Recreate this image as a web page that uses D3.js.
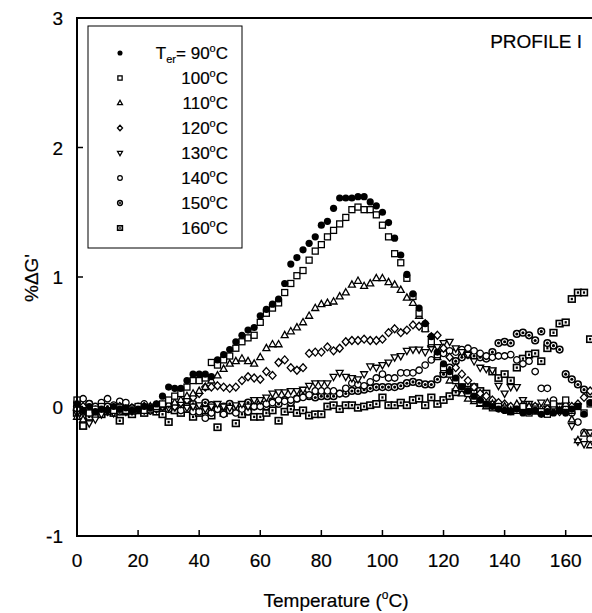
<!DOCTYPE html>
<html>
<head>
<meta charset="utf-8">
<script src="https://cdn.jsdelivr.net/npm/d3@7"></script>
<style>
  body { margin: 0; background: #fff; }
  svg { display: block; font-family: "Liberation Sans", Arial, sans-serif; }
  text { stroke: #000; stroke-width: 0.2px; }
</style>
</head>
<body>
<svg id="chart" width="592" height="613"></svg>
<script>
// %ΔG' vs temperature, eight erasing temperatures (Profile I)

const temps = [
  0, 2, 4, 6, 8, 10, 12, 14, 16, 18,
  20, 22, 24, 26, 28, 30, 32, 34, 36, 38,
  40, 42, 44, 46, 48, 50, 52, 54, 56, 58,
  60, 62, 64, 66, 68, 70, 72, 74, 76, 78,
  80, 82, 84, 86, 88, 90, 92, 94, 96, 98,
  100, 102, 104, 106, 108, 110, 112, 114, 116, 118,
  120, 122, 124, 126, 128, 130, 132, 134, 136, 138,
  140, 142, 144, 146, 148, 150, 152, 154, 156, 158,
  160, 162, 164, 166, 168
];

const ter90 = [
  0.02, -0.03, 0.00, -0.04, -0.02, -0.03, 0.00, -0.02, -0.01, -0.03,
  -0.02, 0.00, -0.01, 0.02, 0.08, 0.15, 0.14, 0.14, 0.20, 0.25,
  0.25, 0.25, 0.23, 0.36, 0.40, 0.44, 0.50, 0.55, 0.59, 0.61,
  0.70, 0.75, 0.79, 0.83, 0.95, 1.10, 1.15, 1.21, 1.26, 1.31,
  1.40, 1.43, 1.53, 1.61, 1.61, 1.61, 1.62, 1.62, 1.58, 1.55,
  1.50, 1.42, 1.30, 1.17, 1.02, 0.87, 0.76, 0.64, 0.54, 0.42,
  0.33, 0.27, 0.22, 0.15, 0.12, 0.08, 0.05, 0.02, 0.00, -0.02,
  -0.03, -0.04, -0.02, -0.05, -0.04, -0.03, -0.06, -0.04, -0.05, -0.03,
  -0.05, -0.02, 0.00, -0.06, 0.03
];

const ter100 = [
  0.05, -0.15, -0.05, -0.02, 0.00, -0.04, -0.03, -0.01, -0.03, -0.02,
  0.00, -0.03, -0.02, 0.00, 0.02, 0.05, 0.08, 0.10, 0.15, 0.20,
  0.20, 0.22, 0.34, 0.32, 0.36, 0.39, 0.45, 0.50, 0.53, 0.55,
  0.65, 0.72, 0.76, 0.80, 0.88, 0.95, 1.01, 1.05, 1.13, 1.20,
  1.25, 1.31, 1.36, 1.41, 1.46, 1.52, 1.54, 1.52, 1.52, 1.48,
  1.40, 1.31, 1.18, 1.11, 0.99, 0.85, 0.72, 0.60, 0.50, 0.40,
  0.30, 0.25, 0.20, 0.14, 0.10, 0.06, 0.03, 0.01, -0.01, 0.00,
  -0.02, -0.04, -0.03, 0.00, -0.05, -0.02, -0.04, -0.06, 0.02, -0.03,
  0.05, -0.03, 0.00, -0.05, 0.02
];

const ter110 = [
  -0.08, -0.10, -0.05, -0.03, -0.02, -0.04, -0.01, -0.03, -0.02, -0.04,
  -0.02, -0.01, 0.00, -0.02, 0.01, 0.02, 0.03, 0.05, 0.08, 0.10,
  0.12, 0.15, 0.20, 0.24, 0.29, 0.33, 0.35, 0.37, 0.35, 0.33,
  0.38, 0.45, 0.48, 0.48, 0.55, 0.58, 0.61, 0.65, 0.70, 0.76,
  0.79, 0.80, 0.81, 0.85, 0.88, 0.94, 0.97, 0.93, 0.95, 0.99,
  0.99, 0.96, 0.94, 0.90, 0.84, 0.80, 0.70, 0.60, 0.48, 0.38,
  0.28, 0.20, 0.14, 0.10, 0.06, 0.04, 0.02, 0.00, 0.02, -0.01,
  0.00, -0.03, 0.02, -0.02, 0.00, -0.04, -0.02, 0.03, 0.00, -0.03,
  0.02, -0.10, -0.26, -0.21, -0.30
];

const ter120 = [
  -0.02, 0.00, -0.05, -0.03, -0.01, -0.04, -0.02, 0.00, -0.03, -0.01,
  -0.02, 0.00, -0.03, 0.01, 0.00, 0.02, 0.00, 0.03, 0.05, 0.07,
  0.10, 0.15, 0.15, 0.16, 0.15, 0.14, 0.15, 0.20, 0.23, 0.22,
  0.21, 0.27, 0.24, 0.34, 0.36, 0.30, 0.28, 0.30, 0.41, 0.42,
  0.42, 0.46, 0.43, 0.45, 0.50, 0.51, 0.51, 0.52, 0.51, 0.51,
  0.52, 0.57, 0.60, 0.57, 0.59, 0.63, 0.62, 0.64, 0.54, 0.55,
  0.45, 0.38, 0.30, 0.25, 0.20, 0.15, 0.10, 0.08, 0.05, 0.03,
  0.02, 0.00, -0.02, 0.01, -0.03, 0.00, -0.05, -0.02, 0.00, -0.04,
  0.03, 0.00, 0.02, 0.07, 0.12
];

const ter130 = [
  -0.05, -0.11, -0.13, -0.10, -0.06, -0.03, -0.05, -0.02, -0.04, -0.03,
  -0.01, -0.03, 0.00, -0.02, 0.01, -0.01, 0.00, 0.02, -0.01, 0.00,
  0.01, -0.02, 0.00, 0.02, 0.00, -0.01, 0.01, 0.02, 0.00, 0.05,
  0.05, 0.07, 0.10, 0.11, 0.11, 0.12, 0.12, 0.13, 0.16, 0.18,
  0.18, 0.18, 0.23, 0.26, 0.23, 0.22, 0.21, 0.25, 0.31, 0.30,
  0.32, 0.34, 0.38, 0.39, 0.43, 0.44, 0.44, 0.42, 0.45, 0.46,
  0.49, 0.50, 0.45, 0.42, 0.40, 0.35, 0.30, 0.29, 0.28, 0.16,
  0.10, 0.15, 0.15, 0.05, 0.02, 0.00, 0.03, -0.02, 0.01, 0.00,
  -0.04, -0.15, -0.27, -0.29, -0.20
];

const ter140 = [
  0.03, 0.06, 0.02, 0.00, 0.03, 0.06, 0.01, 0.04, 0.03, -0.01,
  0.00, 0.02, -0.01, 0.00, 0.01, -0.02, 0.00, -0.03, -0.02, -0.04,
  -0.04, -0.09, -0.05, -0.02, -0.06, -0.03, -0.05, -0.02, -0.04, 0.00,
  0.00, 0.02, 0.03, 0.05, 0.04, 0.05, 0.06, 0.07, 0.09, 0.12,
  0.12, 0.12, 0.12, 0.10, 0.14, 0.18, 0.17, 0.16, 0.19, 0.22,
  0.25, 0.22, 0.22, 0.26, 0.26, 0.26, 0.28, 0.32, 0.36, 0.39,
  0.41, 0.43, 0.42, 0.44, 0.45, 0.43, 0.41, 0.39, 0.38, 0.39,
  0.39, 0.40, 0.36, 0.33, 0.35, 0.27, 0.14, 0.14, 0.05, 0.00,
  -0.02, -0.05, -0.12, -0.20, -0.25
];

const ter150 = [
  0.00, -0.04, 0.02, -0.03, -0.01, 0.00, -0.02, -0.04, -0.01, -0.03,
  -0.02, 0.00, -0.03, -0.01, 0.00, -0.02, 0.01, -0.01, 0.00, 0.02,
  0.00, 0.03, 0.01, -0.02, 0.00, 0.02, -0.01, 0.01, 0.03, 0.00,
  0.02, 0.00, 0.04, 0.02, 0.05, 0.03, 0.06, 0.10, 0.08, 0.07,
  0.08, 0.08, 0.08, 0.10, 0.10, 0.12, 0.12, 0.13, 0.14, 0.15,
  0.15, 0.15, 0.15, 0.16, 0.18, 0.19, 0.18, 0.17, 0.17, 0.21,
  0.25, 0.30, 0.35, 0.38, 0.40, 0.39, 0.38, 0.37, 0.42, 0.49,
  0.50, 0.49, 0.56, 0.57, 0.55, 0.51, 0.58, 0.49, 0.47, 0.44,
  0.25, 0.21, 0.17, 0.13, 0.10
];

const ter160 = [
  -0.05, -0.15, -0.08, -0.04, -0.06, -0.03, -0.05, -0.11, -0.04, -0.06,
  -0.03, -0.05, -0.02, -0.04, -0.06, -0.12, -0.03, -0.05, -0.02, -0.08,
  -0.05, -0.03, -0.07, -0.16, -0.05, -0.03, -0.13, -0.06, -0.04, -0.08,
  -0.08, -0.05, -0.03, -0.11, -0.04, -0.02, -0.05, -0.03, -0.07, -0.06,
  -0.06, 0.00, 0.01, -0.02, 0.01, 0.01, -0.01, 0.00, 0.01, 0.02,
  0.07, 0.01, 0.01, 0.03, 0.01, 0.05, 0.06, 0.01, 0.07, 0.02,
  0.05, 0.08, 0.11, 0.15, 0.13, 0.15, 0.12, 0.10, 0.27, 0.22,
  0.25, 0.20, 0.30, 0.37, 0.40, 0.41, 0.35, 0.45, 0.57, 0.64,
  0.65, 0.83, 0.88, 0.88, 0.52
];

const seriesTemps = ['90', '100', '110', '120', '130', '140', '150', '160'];
const seriesValues = [ter90, ter100, ter110, ter120, ter130, ter140, ter150, ter160];
const seriesMarks = ['dot', 'square', 'triUp', 'diamond', 'triDown', 'circle', 'circleDot', 'squareDot'];

const xTicks = [0, 20, 40, 60, 80, 100, 120, 140, 160];
const yTicks = [-1, 0, 1, 2, 3];

// ── Layout ──────────────────────────────────────────────────────────────
const W = 592, H = 613;
const X0 = 77, YTOP = 18, YBOT = 536;

const svg = d3.select('#chart');

const x = d3.scaleLinear().domain([0, 160]).range([X0, 565.7]);
const y = d3.scaleLinear().domain([-1, 3]).range([YBOT, YTOP]);

svg.append('defs').append('clipPath').attr('id', 'plot-clip')
  .append('rect')
  .attr('x', X0 - 6).attr('y', YTOP).attr('width', W - X0 + 6).attr('height', YBOT - YTOP);

// ── Marker drawing ──────────────────────────────────────────────────────
function drawMark(g, kind, k) {
  const sw = 1.3;
  switch (kind) {
    case 'dot':
      g.append('circle').attr('r', 3.0 * k).attr('fill', '#000');
      break;
    case 'square':
      g.append('rect').attr('x', -2.5 * k).attr('y', -2.5 * k)
        .attr('width', 5 * k).attr('height', 5 * k)
        .attr('fill', '#fff').attr('stroke', '#000').attr('stroke-width', sw);
      break;
    case 'triUp':
      g.append('path').attr('d', `M0,${-3.2 * k}L${2.9 * k},${2 * k}L${-2.9 * k},${2 * k}Z`)
        .attr('fill', '#fff').attr('stroke', '#000').attr('stroke-width', sw);
      break;
    case 'diamond':
      g.append('path').attr('d', `M0,${-3.3 * k}L${3 * k},0L0,${3.3 * k}L${-3 * k},0Z`)
        .attr('fill', '#fff').attr('stroke', '#000').attr('stroke-width', sw);
      break;
    case 'triDown':
      g.append('path').attr('d', `M0,${3.2 * k}L${2.9 * k},${-2 * k}L${-2.9 * k},${-2 * k}Z`)
        .attr('fill', '#fff').attr('stroke', '#000').attr('stroke-width', sw);
      break;
    case 'circle':
      g.append('circle').attr('r', 2.7 * k)
        .attr('fill', '#fff').attr('stroke', '#000').attr('stroke-width', sw);
      break;
    case 'circleDot':
      g.append('circle').attr('r', 2.8 * k)
        .attr('fill', '#fff').attr('stroke', '#000').attr('stroke-width', 1.5);
      g.append('circle').attr('r', 1.3 * k).attr('fill', '#000');
      break;
    case 'squareDot':
      g.append('rect').attr('x', -2.8 * k).attr('y', -2.6 * k)
        .attr('width', 5.6 * k).attr('height', 5.2 * k)
        .attr('fill', '#fff').attr('stroke', '#000').attr('stroke-width', 1.6);
      g.append('rect').attr('x', -0.9 * k).attr('y', -1 * k)
        .attr('width', 1.8 * k).attr('height', 2 * k).attr('fill', '#000');
      break;
  }
}

// ── Data points (90 °C drawn last so the filled dots sit on top) ─────────
const plotG = svg.append('g').attr('clip-path', 'url(#plot-clip)');

d3.range(seriesValues.length).reverse().forEach(si => {
  const vals = seriesValues[si];
  const pts = temps.map((t, i) => ({ t, v: vals[i] })).filter(d => d.v != null);
  plotG.append('g')
    .selectAll('g')
    .data(pts)
    .join('g')
    .attr('transform', d => `translate(${x(d.t)},${y(d.v)})`)
    .each(function () { drawMark(d3.select(this), seriesMarks[si], 1.2); });
});

// ── Frame and axes ──────────────────────────────────────────────────────
const axisG = svg.append('g').attr('stroke', '#000').attr('fill', 'none');
axisG.append('line').attr('x1', X0).attr('x2', X0).attr('y1', YTOP).attr('y2', YBOT).attr('stroke-width', 2);
axisG.append('line').attr('x1', X0 - 1).attr('x2', W).attr('y1', YBOT).attr('y2', YBOT).attr('stroke-width', 2);
axisG.append('line').attr('x1', X0 - 1).attr('x2', W).attr('y1', YTOP).attr('y2', YTOP).attr('stroke-width', 2);

// inward ticks
axisG.selectAll('.xt').data(xTicks).join('line')
  .attr('x1', d => x(d)).attr('x2', d => x(d))
  .attr('y1', YBOT).attr('y2', YBOT - 6).attr('stroke-width', 1.5);
axisG.selectAll('.yt').data(yTicks).join('line')
  .attr('x1', X0).attr('x2', X0 + 6)
  .attr('y1', d => y(d)).attr('y2', d => y(d)).attr('stroke-width', 1.5);

svg.append('g').selectAll('text').data(xTicks).join('text')
  .attr('x', d => x(d)).attr('y', 567)
  .attr('text-anchor', 'middle').attr('font-size', 19).attr('fill', '#000')
  .text(d => d);

svg.append('g').selectAll('text').data(yTicks).join('text')
  .attr('x', 63).attr('y', d => y(d) + 7)
  .attr('text-anchor', 'end').attr('font-size', 19).attr('fill', '#000')
  .text(d => d);

// axis titles
const xt = svg.append('text')
  .attr('x', 336).attr('y', 607)
  .attr('text-anchor', 'middle').attr('font-size', 19).attr('fill', '#000');
xt.append('tspan').text('Temperature (');
xt.append('tspan').attr('font-size', 12).attr('dy', -8).text('o');
xt.append('tspan').attr('dy', 8).text('C)');

svg.append('text')
  .attr('transform', 'translate(38,278) rotate(-90)')
  .attr('text-anchor', 'middle').attr('font-size', 19).attr('fill', '#000')
  .text('%\u0394G\'');

svg.append('text')
  .attr('x', 582).attr('y', 48)
  .attr('text-anchor', 'end').attr('font-size', 19).attr('fill', '#000')
  .text('PROFILE I');

// ── Legend ──────────────────────────────────────────────────────────────
const legG = svg.append('g');
legG.append('rect')
  .attr('x', 88).attr('y', 26).attr('width', 154).attr('height', 222)
  .attr('fill', '#fff').attr('stroke', '#000').attr('stroke-width', 1);

seriesTemps.forEach((tLabel, i) => {
  const cy = 53 + i * 25;
  const mg = legG.append('g').attr('transform', `translate(120,${cy})`);
  drawMark(mg, seriesMarks[i], 0.85);

  const txt = legG.append('text')
    .attr('x', 228).attr('y', cy + 6)
    .attr('text-anchor', 'end').attr('font-size', 17).attr('fill', '#000');
  if (i === 0) {
    txt.append('tspan').text('T');
    txt.append('tspan').attr('font-size', 11).attr('dy', 4).text('er');
    txt.append('tspan').attr('dy', -4).text('= ' + tLabel);
  } else {
    txt.append('tspan').text(tLabel);
  }
  txt.append('tspan').attr('font-size', 11).attr('dy', -7).text('o');
  txt.append('tspan').attr('dy', 7).text('C');
});
</script>
</body>
</html>
